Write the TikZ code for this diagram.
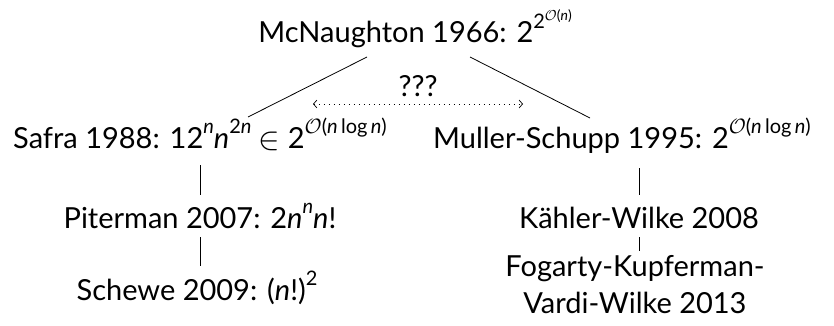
\documentclass[tikz,border=0pt]{standalone}
\usepackage{fontspec}
\usepackage{graphicx}
\setmainfont{Lato}
\usetikzlibrary{calc,arrows.meta}
\newcommand{\nn}{\textit{n}}
\newcommand{\up}[1]{\raisebox{0.5em}{\fontsize{20}{24}\selectfont #1}}
\newcommand{\upup}[1]{\raisebox{0.4em}{\fontsize{14}{17}\selectfont #1}}
\newcommand{\elem}{\raisebox{-1.5pt}{\scalebox{1.3}{$\in$}}}
\tikzset{
  lbl/.style={anchor=base, inner sep=0pt, font=\fontsize{29}{37}\selectfont},
  link/.style={draw=black, line width=0.8pt},
  maybe/.style={draw=black, line width=0.7pt, dash pattern=on 0.7pt off 4.3pt,
    {Straight Barb[length=3.5pt,width=8pt]}-{Straight Barb[length=3.5pt,width=8pt]}}
}
\begin{document}
\begin{tikzpicture}[x=1pt,y=-1pt]
\useasboundingbox (0,0) rectangle (834,326);
\node[lbl] (mc) at (415,43) {McNaughton 1966: 2\up{2\upup{$\mathcal{O}$(\nn)}}};
\node[lbl] (q) at (418,96) {???};
\node[lbl] (safra) at (200,148) {Safra 1988: 12\up{\nn}\nn\up{2\nn} \elem{} 2\up{$\mathcal{O}$(\nn\,log\,\nn)}};
\node[lbl] (muller) at (622,148) {Muller-Schupp 1995: 2\up{$\mathcal{O}$(\nn\,log\,\nn)}};
\node[lbl] (pit) at (200,228) {Piterman 2007: 2\nn\up{\nn}\nn!};
\node[lbl] (sch) at (197,300) {Schewe 2009: (\nn!)\up{2}};
\node[lbl] (kw) at (639,228) {Kähler-Wilke 2008};
\node[lbl, align=center] (fkvw) at (635,313) {Fogarty-Kupferman-\\Vardi-Wilke 2013};
\draw[link] ($(mc.base)+(-48,14)$) -- ($(safra.base)+(48,-31)$);
\draw[link] ($(mc.base)+(55,14)$) -- ($(muller.base)+(-32,-30)$);
\draw[maybe] ($(q.base)+(-105,8)$) -- ($(q.base)+(105,8)$);
\draw[link] ($(safra.base)+(0,17)$) -- ($(safra.base |- pit.base)+(0,-33)$);
\draw[link] ($(pit.base)+(0,9)$) -- ($(pit.base |- sch.base)+(0,-34)$);
\draw[link] ($(kw.base |- muller.base)+(0,20)$) -- ($(kw.base)+(0,-33)$);
\draw[link] ($(kw.base)+(0,9)$) -- ($(kw.base |- fkvw.base)+(0,-62)$);
\end{tikzpicture}
\end{document}
